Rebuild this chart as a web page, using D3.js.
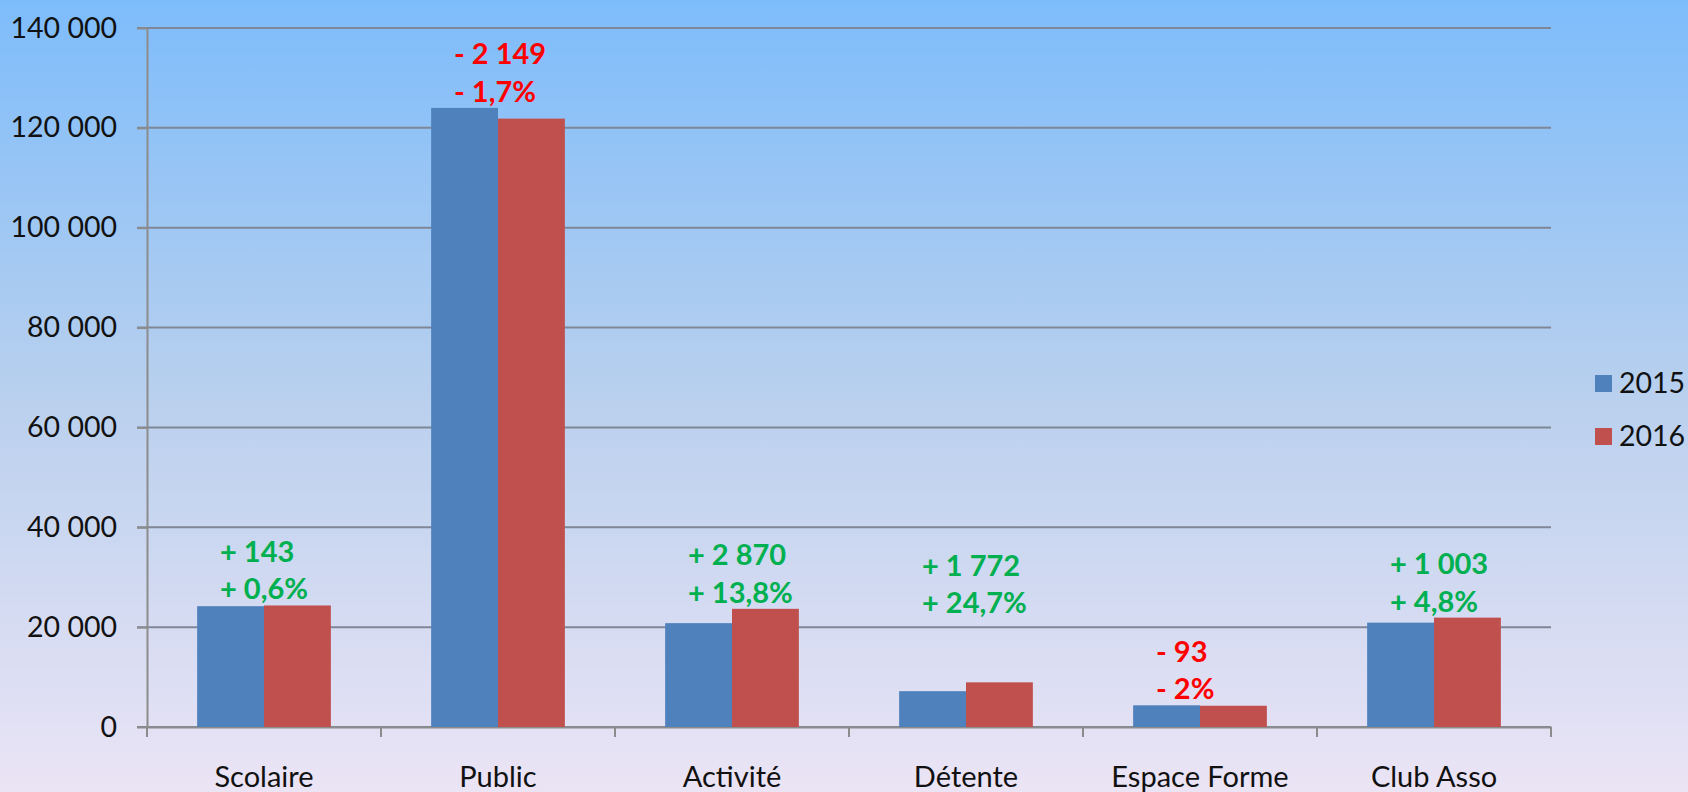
<!DOCTYPE html>
<html>
<head>
<meta charset="utf-8">
<title>Fréquentation 2015 - 2016</title>
<script src="https://d3js.org/d3.v7.min.js"></script>
<style>
  body { margin: 0; background: #dfe4f4; }
  svg { display: block; }
  text { font-family: Lato, "Open Sans", sans-serif; }
</style>
</head>
<body>
<div id="chart"></div>
<script>
// chart values
const categories = ["Scolaire", "Public", "Activité", "Détente", "Espace Forme", "Club Asso"];
const years = ["2015", "2016"];
const values2015 = [24200, 124000, 20800, 7174, 4350, 20900];
const values2016 = [24343, 121851, 23670, 8946, 4257, 21903];
const diffLabels = ["+ 143", "- 2 149", "+ 2 870", "+ 1 772", "- 93", "+ 1 003"];
const pctLabels = ["+ 0,6%", "- 1,7%", "+ 13,8%", "+ 24,7%", "- 2%", "+ 4,8%"];
const yTicks = [0, 20000, 40000, 60000, 80000, 100000, 120000, 140000];

// dimensions (plot area edges)
var W = 1688, H = 792;
var plotLeft = 147, plotRight = 1551, plotTop = 28, plotBottom = 727;
var colors = {"2015": "#4f81bd", "2016": "#c0504d"};

var svg = d3.select("#chart")
  .append("svg")
    .attr("width", W)
    .attr("height", H);

// background gradient
var grad = svg.append("defs").append("linearGradient")
    .attr("id", "bg")
    .attr("x1", 0).attr("y1", 0).attr("x2", 0).attr("y2", 1);
grad.append("stop").attr("offset", "0%").attr("stop-color", "#7dbcfb");
grad.append("stop").attr("offset", "50%").attr("stop-color", "#b9d0ee");
grad.append("stop").attr("offset", "100%").attr("stop-color", "#ebe4f5");

svg.append("rect")
    .attr("width", W).attr("height", H)
    .attr("fill", "url(#bg)");

// scales
var xScale = d3.scaleBand()
    .domain(categories)
    .range([plotLeft, plotRight]);

var xInner = d3.scaleBand()
    .domain(years)
    .range([0, xScale.bandwidth()])
    .paddingInner(0)
    .paddingOuter(0.75);

var yScale = d3.scaleLinear()
    .domain([0, 140000])
    .range([plotBottom, plotTop]);

var fr = d3.formatLocale({decimal: ",", thousands: "\u00a0", grouping: [3], currency: ["", " €"]});

// gridlines
svg.append("g")
  .selectAll("line")
  .data(yTicks)
  .join("line")
    .attr("x1", plotLeft - 10)
    .attr("x2", plotRight)
    .attr("y1", function(d) { return yScale(d); })
    .attr("y2", function(d) { return yScale(d); })
    .attr("stroke", "#7f8797")
    .attr("stroke-width", 2);

// y axis
var yAxis = svg.append("g")
    .attr("transform", "translate(" + plotLeft + ",0)")
    .call(d3.axisLeft(yScale)
      .tickValues(yTicks)
      .tickSize(10)
      .tickSizeOuter(0)
      .tickPadding(20)
      .tickFormat(fr.format(",d")));
yAxis.select(".domain").attr("stroke", "#8c8c8c").attr("stroke-width", 2);
yAxis.selectAll(".tick line").attr("stroke", "#8c8c8c").attr("stroke-width", 2);
yAxis.selectAll(".tick text")
    .style("font-size", "28.5px")
    .style("font-family", "Lato, sans-serif")
    .attr("fill", "#111");

// x axis
var xAxis = svg.append("g")
    .attr("transform", "translate(0," + plotBottom + ")")
    .call(d3.axisBottom(xScale).tickSize(0).tickSizeOuter(0).tickPadding(0));
xAxis.select(".domain").attr("stroke", "#8c8c8c").attr("stroke-width", 2);
xAxis.selectAll(".tick text")
    .attr("y", 60)
    .attr("dy", 0)
    .style("font-size", "29px")
    .style("font-family", "Lato, sans-serif")
    .attr("fill", "#111");

// category separator ticks
svg.append("g")
  .selectAll("line")
  .data(categories.concat(["end"]))
  .join("line")
    .attr("x1", function(d, i) { return plotLeft + i * xScale.step(); })
    .attr("x2", function(d, i) { return plotLeft + i * xScale.step(); })
    .attr("y1", plotBottom)
    .attr("y2", plotBottom + 10)
    .attr("stroke", "#8c8c8c")
    .attr("stroke-width", 2);

// bars
var rows = categories.map(function(c, i) {
  return {cat: c, v2015: values2015[i], v2016: values2016[i], diff: diffLabels[i], pct: pctLabels[i]};
});

var groups = svg.append("g")
  .selectAll("g")
  .data(rows)
  .join("g")
    .attr("transform", function(d) { return "translate(" + xScale(d.cat) + ",0)"; });

groups.selectAll("rect")
  .data(function(d) { return years.map(function(y) { return {year: y, value: d["v" + y]}; }); })
  .join("rect")
    .attr("x", function(d) { return xInner(d.year); })
    .attr("width", xInner.bandwidth())
    .attr("y", function(d) { return yScale(d.value); })
    .attr("height", function(d) { return plotBottom - yScale(d.value); })
    .attr("fill", function(d) { return colors[d.year]; });

// change annotations
var labelLift = {"Détente": 63};
groups.each(function(d) {
  var g = d3.select(this);
  var barTop = yScale(Math.max(d.v2015, d.v2016));
  var base = barTop - 6 - (labelLift[d.cat] || 0);
  var col = d.v2016 >= d.v2015 ? "#00b050" : "#ff0000";
  var x = xScale.bandwidth() / 2 - 44;
  g.append("text")
    .attr("x", x).attr("y", base - 37.5)
    .attr("fill", col)
    .style("font-size", "29px")
    .style("font-weight", "bold")
    .text(d.diff);
  g.append("text")
    .attr("x", x).attr("y", base)
    .attr("fill", col)
    .style("font-size", "29px")
    .style("font-weight", "bold")
    .text(d.pct);
});

// legend
var legend = svg.append("g")
  .selectAll("g")
  .data(years)
  .join("g")
    .attr("transform", function(d, i) { return "translate(1595," + (375 + i * 53) + ")"; });

legend.append("rect")
    .attr("width", 17)
    .attr("height", 17)
    .attr("fill", function(d) { return colors[d]; });

legend.append("text")
    .attr("x", 24)
    .attr("y", 18)
    .style("font-size", "28.5px")
    .attr("fill", "#111")
    .text(function(d) { return d; });
</script>
</body>
</html>
